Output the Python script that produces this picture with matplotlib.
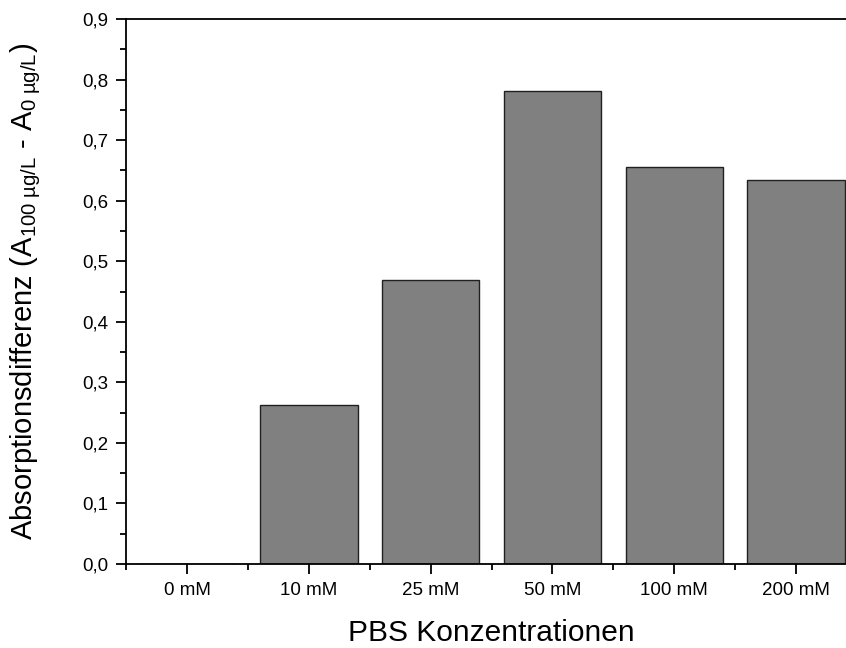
import numpy as np
import matplotlib
matplotlib.use('Agg')
import matplotlib.pyplot as plt
from matplotlib.ticker import MultipleLocator, FuncFormatter

# Data
categories = ['0 mM', '10 mM', '25 mM', '50 mM', '100 mM', '200 mM']
values = [0.0, 0.263, 0.469, 0.781, 0.656, 0.634]

plt.rcParams['font.family'] = ['Liberation Sans', 'DejaVu Sans']
plt.rcParams['mathtext.fontset'] = 'custom'
plt.rcParams['mathtext.rm'] = 'Liberation Sans'
plt.rcParams['mathtext.it'] = 'Liberation Sans'

fig = plt.figure(figsize=(8.46, 6.48), dpi=100)
ax = fig.add_axes([0.149, 0.1296, 0.864, 0.8411])

x = np.arange(len(categories))
ax.bar(x, values, width=0.8, color='#808080', edgecolor='#202020', linewidth=1.0)

ax.set_xlim(-0.5, 5.5)
ax.set_ylim(0, 0.9)
ax.set_xticks(x)
ax.set_xticklabels(categories)
ax.xaxis.set_minor_locator(MultipleLocator(1, offset=0.5))
ax.yaxis.set_major_locator(MultipleLocator(0.1))
ax.yaxis.set_minor_locator(MultipleLocator(0.05))
ax.yaxis.set_major_formatter(FuncFormatter(lambda v, p: f"{v:.1f}".replace('.', ',')))

ax.tick_params(which='major', direction='out', length=7, width=1.3, labelsize=13.5, pad=6)
ax.tick_params(which='minor', direction='out', length=4, width=1.3)
for s in ax.spines.values():
    s.set_linewidth(1.3)

ax.set_xlabel('PBS Konzentrationen', fontsize=21.5, labelpad=14)
ax.set_ylabel('Absorptionsdifferenz (A$_{\\mathregular{100\\ µg/L}}$ - A$_{\\mathregular{0\\ µg/L}}$)',
              fontsize=21, labelpad=28)

fig.savefig('out.png', dpi=100)
